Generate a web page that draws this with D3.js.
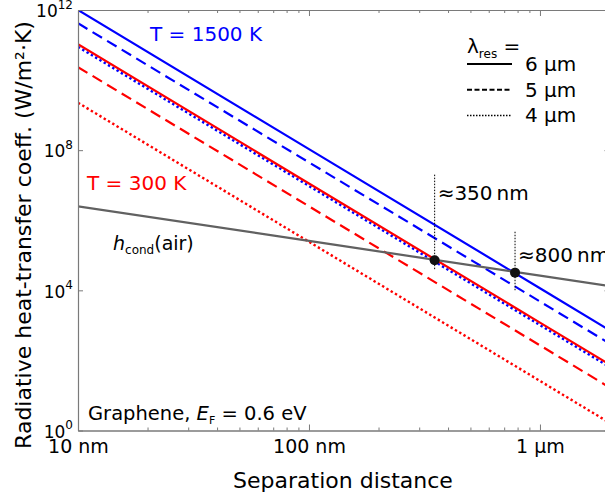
<!DOCTYPE html>
<html>
<head>
<meta charset="utf-8">
<script src="https://cdn.jsdelivr.net/npm/d3@7"></script>
<style>
  body { margin: 0; background: #fff; }
  text { font-family: "DejaVu Sans", sans-serif; }
</style>
</head>
<body>
<div id="wrapper"></div>
<script>
// separation distance (nm) where the curves are read
const distNm = [10, 100, 1000, 2000]

// radiative heat-transfer coefficient, W/(m^2 K)
const h1500_6um = [1.0e12, 1.07e8, 1.15e4, 7.3e2]
const h1500_5um = [4.17e11, 4.47e7, 4.8e3, 3.05e2]
const h1500_4um = [8.9e10, 9.5e6, 1.02e3, 65]
const h300_6um = [1.05e11, 1.12e7, 1.2e3, 77]
const h300_5um = [2.34e10, 2.5e6, 2.69e2, 17]
const h300_4um = [2.26e9, 2.43e5, 26, 1.66]
const hCondAir = [2.5e6, 2.57e5, 2.63e4, 1.32e4]

// crossing points with conduction through air
const crossNm = [350, 780]
const crossH = [7.2e4, 3.2e4]
const guideTopH = [2.0e7, 4.7e5]
const guideBottomH = [3.8e4, 9.8e3]
const crossLabels = ["≈350\u2009nm", "≈800\u2009nm"]

const xTicks = [10, 100, 1000]
const xTickLabels = ["10 nm", "100 nm", "1 μm"]
const xMinorTicks = [20, 30, 40, 50, 60, 70, 80, 90, 200, 300, 400, 500, 600, 700, 800, 900, 2000]
const yTicks = [1, 1e4, 1e8, 1e12]
const yTickExponents = ["0", "4", "8", "12"]

const legendLabels = ["6 μm", "5 μm", "4 μm"]

async function drawChart() {

  let dimensions = {
    width: 605,
    height: 495,
    margin: { top: 10, left: 78 },
  }
  dimensions.boundedWidth = 531.5
  dimensions.boundedHeight = 420.5

  const wrapper = d3.select("#wrapper")
    .append("svg")
      .attr("width", dimensions.width)
      .attr("height", dimensions.height)

  const bounds = wrapper.append("g")
      .attr("transform", `translate(${dimensions.margin.left},${dimensions.margin.top})`)

  const xScale = d3.scaleLog()
    .domain([10, 2000])
    .range([0, dimensions.boundedWidth])

  const yScale = d3.scaleLog()
    .domain([1, 1e12])
    .range([dimensions.boundedHeight, 0])

  bounds.append("clipPath")
      .attr("id", "clip")
    .append("rect")
      .attr("width", dimensions.boundedWidth)
      .attr("height", dimensions.boundedHeight)

  const lineGenerator = d3.line()
    .x(d => xScale(d[0]))
    .y(d => yScale(d[1]))

  const series = [
    { values: h1500_4um, color: "#0000ff", dash: "2.4,2.6", width: 2.4 },
    { values: h1500_5um, color: "#0000ff", dash: "11,6", width: 2.2 },
    { values: h1500_6um, color: "#0000ff", dash: null, width: 2.2 },
    { values: h300_4um, color: "#ff0000", dash: "2.4,2.6", width: 2.4 },
    { values: h300_5um, color: "#ff0000", dash: "11,6", width: 2.2 },
    { values: h300_6um, color: "#ff0000", dash: null, width: 2.2 },
    { values: hCondAir, color: "#616161", dash: null, width: 2.2 },
  ]

  const plot = bounds.append("g").attr("clip-path", "url(#clip)")

  plot.selectAll("path")
    .data(series)
    .join("path")
      .attr("d", s => lineGenerator(distNm.map((d, i) => [d, s.values[i]])))
      .attr("fill", "none")
      .attr("stroke", s => s.color)
      .attr("stroke-width", s => s.width)
      .attr("stroke-dasharray", s => s.dash)

  // guides + markers
  plot.selectAll("line.guide")
    .data(crossNm)
    .join("line")
      .attr("class", "guide")
      .attr("x1", d => xScale(d))
      .attr("x2", d => xScale(d))
      .attr("y1", (d, i) => yScale(guideTopH[i]))
      .attr("y2", (d, i) => yScale(guideBottomH[i]))
      .attr("stroke", "#000")
      .attr("stroke-width", 1)
      .attr("stroke-dasharray", "1.5,1.5")

  plot.selectAll("circle")
    .data(crossNm)
    .join("circle")
      .attr("cx", d => xScale(d))
      .attr("cy", (d, i) => yScale(crossH[i]))
      .attr("r", 5)
      .attr("fill", "#111")

  bounds.selectAll("text.cross")
    .data(crossNm)
    .join("text")
      .attr("class", "cross")
      .attr("x", d => xScale(d) + 3)
      .attr("y", (d, i) => yScale(guideTopH[i]) + [25, 30][i])
      .attr("font-size", 20)
      .text((d, i) => crossLabels[i])

  // axes
  const axisColor = "#7a7a7a"
  const styleAxis = g => {
    g.select(".domain").attr("stroke", axisColor).attr("stroke-width", 1.2)
    g.selectAll(".tick line").attr("stroke", axisColor).attr("stroke-width", 1)
  }

  const xAxis = bounds.append("g")
      .attr("transform", `translate(0,${dimensions.boundedHeight})`)
      .call(d3.axisBottom(xScale).tickValues(xTicks).tickSizeInner(-6).tickSizeOuter(0).tickPadding(10)
        .tickFormat((d, i) => xTickLabels[i]))
      .call(styleAxis)
  xAxis.selectAll(".tick text")
      .attr("font-size", 19)
      .attr("fill", "#000")
      .attr("y", 22)
      .attr("dy", 0)

  bounds.append("g")
      .attr("transform", `translate(0,${dimensions.boundedHeight})`)
      .call(d3.axisBottom(xScale).tickValues(xMinorTicks).tickSizeInner(-3).tickSizeOuter(0).tickFormat(""))
      .call(styleAxis)

  bounds.append("g")
      .call(d3.axisTop(xScale).tickValues(xTicks).tickSizeInner(-6).tickSizeOuter(0).tickFormat(""))
      .call(styleAxis)
  bounds.append("g")
      .call(d3.axisTop(xScale).tickValues(xMinorTicks).tickSizeInner(-3).tickSizeOuter(0).tickFormat(""))
      .call(styleAxis)

  const yAxis = bounds.append("g")
      .call(d3.axisLeft(yScale).tickValues(yTicks).tickSizeInner(-5).tickSizeOuter(0).tickPadding(5).tickFormat(""))
      .call(styleAxis)
  yAxis.selectAll(".tick text")
      .attr("font-size", 17)
      .attr("fill", "#000")
      .attr("x", -5)
      .attr("dy", "0.4em")
      .each(function (d, i) {
        const t = d3.select(this)
        t.append("tspan").text("10")
        t.append("tspan").attr("font-size", 12).attr("dy", "-0.7em").text(yTickExponents[i])
      })

  bounds.append("g")
      .attr("transform", `translate(${dimensions.boundedWidth},0)`)
      .call(d3.axisRight(yScale).tickValues(yTicks).tickSizeInner(-5).tickSizeOuter(0).tickFormat(""))
      .call(styleAxis)

  // axis labels
  wrapper.append("text")
      .attr("x", dimensions.margin.left + 265)
      .attr("y", 488)
      .attr("text-anchor", "middle")
      .attr("font-size", 22)
      .text("Separation distance")

  wrapper.append("text")
      .attr("transform", "translate(31,235) rotate(-90)")
      .attr("text-anchor", "middle")
      .attr("font-size", 22)
      .text("Radiative heat-transfer coeff. (W/m²·K)")

  // annotations
  wrapper.append("text")
      .attr("x", 150).attr("y", 41)
      .attr("font-size", 20).attr("fill", "#0000ff")
      .text("T = 1500 K")

  wrapper.append("text")
      .attr("x", 87).attr("y", 190)
      .attr("font-size", 20).attr("fill", "#ff0000")
      .text("T = 300 K")

  const hLabel = wrapper.append("text")
      .attr("x", 113).attr("y", 250)
      .attr("font-size", 19)
  hLabel.append("tspan").attr("font-style", "italic").text("h")
  hLabel.append("tspan").attr("font-size", 12).attr("dy", 4).text("cond")
  hLabel.append("tspan").attr("dy", -4).text("(air)")

  const gLabel = wrapper.append("text")
      .attr("x", 88).attr("y", 420)
      .attr("font-size", 19.5)
  gLabel.append("tspan").text("Graphene, ")
  gLabel.append("tspan").attr("font-style", "italic").text("E")
  gLabel.append("tspan").attr("font-size", 11).attr("dy", 4).text("F")
  gLabel.append("tspan").attr("dy", -4).text(" = 0.6 eV")

  // legend
  const legend = wrapper.append("g")
  const lam = legend.append("text")
      .attr("x", 467).attr("y", 53)
      .attr("font-size", 20)
  lam.append("tspan").text("λ")
  lam.append("tspan").attr("font-size", 12).attr("dy", 5).text("res")
  lam.append("tspan").attr("dy", -5).text(" =")

  const legendDash = [null, "5,2.5", "1.5,1.5"]
  const legendWidth = [2, 2, 1.5]
  legend.selectAll("line")
    .data(legendLabels)
    .join("line")
      .attr("x1", 467).attr("x2", 512)
      .attr("y1", (d, i) => 64 + i * 25.7)
      .attr("y2", (d, i) => 64 + i * 25.7)
      .attr("stroke", "#000")
      .attr("stroke-width", (d, i) => legendWidth[i])
      .attr("stroke-dasharray", (d, i) => legendDash[i])

  legend.selectAll("text.item")
    .data(legendLabels)
    .join("text")
      .attr("class", "item")
      .attr("x", 525)
      .attr("y", (d, i) => 71 + i * 25.7)
      .attr("font-size", 20)
      .text(d => d)
}
drawChart()
</script>
</body>
</html>
